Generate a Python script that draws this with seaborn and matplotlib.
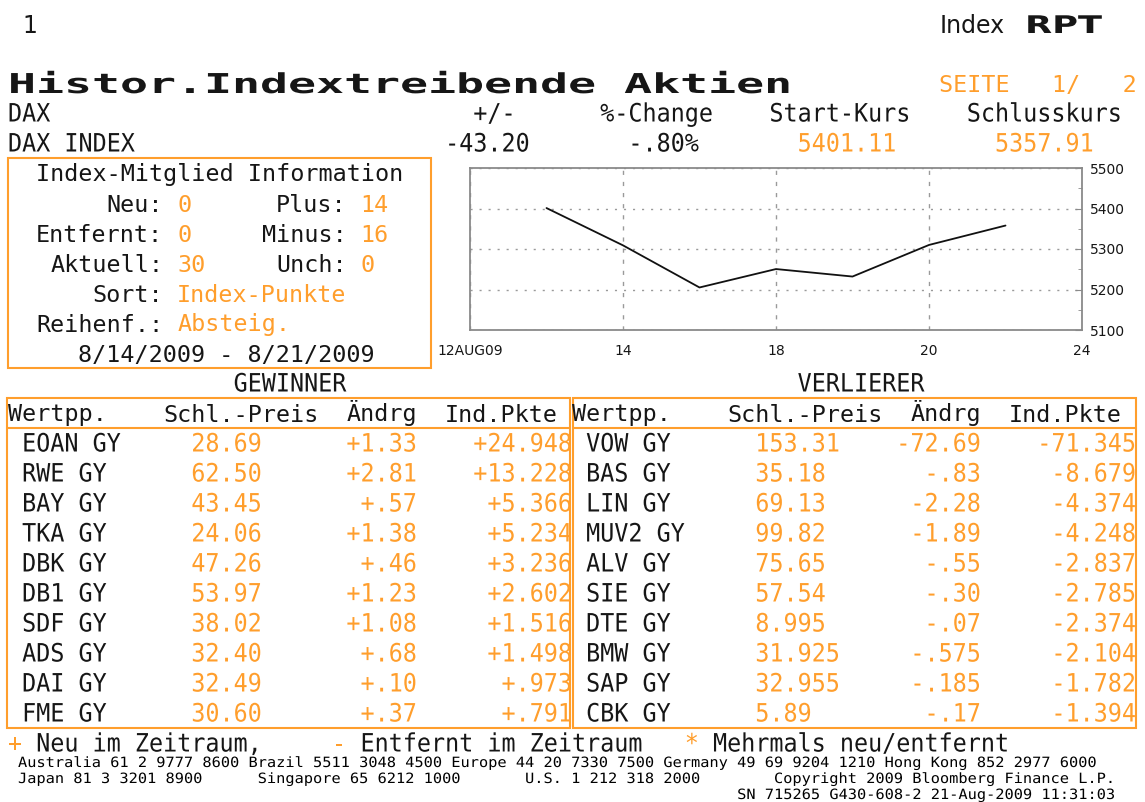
import numpy as np
import pandas as pd
import seaborn as sns
import matplotlib
matplotlib.use("Agg")
import matplotlib.pyplot as plt
from matplotlib.patches import Rectangle
from matplotlib.patheffects import AbstractPathEffect
from matplotlib.transforms import Affine2D

# ---------------- data ----------------
page_left = "1"
screen_code = "RPT"
title = "Histor.Indextreibende Aktien"
page_info = "SEITE   1/   2"

head_labels = ["DAX", "+/-", "%-Change", "Start-Kurs", "Schlusskurs"]
index_name = "DAX INDEX"
index_change = "-43.20"
index_pct = "-.80%"
index_start = "5401.11"
index_close = "5357.91"

info_title = "Index-Mitglied Information"
info_neu, info_entfernt, info_aktuell = "0", "0", "30"
info_plus, info_minus, info_unch = "14", "16", "0"
info_sort = "Index-Punkte"
info_order = "Absteig."
info_period = "8/14/2009 - 8/21/2009"

# chart data (DAX closes per trading session)
trading_days = ["12AUG09", "13", "14", "17", "18", "19", "20", "21", "24"]
close_days = ["13", "14", "17", "18", "19", "20", "21"]
close_values = [5401.11, 5309.0, 5205.0, 5250.5, 5232.0, 5310.0, 5357.91]
tick_days = ["12AUG09", "14", "18", "20", "24"]
minor_days = ["13", "17", "19", "21"]
y_ticks = [5100, 5200, 5300, 5400, 5500]

table_cols = ["Wertpp.", "Schl.-Preis", "Ändrg", "Ind.Pkte"]

gain_names = ["EOAN GY", "RWE GY", "BAY GY", "TKA GY", "DBK GY",
              "DB1 GY", "SDF GY", "ADS GY", "DAI GY", "FME GY"]
gain_price = ["28.69", "62.50", "43.45", "24.06", "47.26",
              "53.97", "38.02", "32.40", "32.49", "30.60"]
gain_chg = ["+1.33", "+2.81", "+.57", "+1.38", "+.46",
            "+1.23", "+1.08", "+.68", "+.10", "+.37"]
gain_pts = ["+24.948", "+13.228", "+5.366", "+5.234", "+3.236",
            "+2.602", "+1.516", "+1.498", "+.973", "+.791"]

loss_names = ["VOW GY", "BAS GY", "LIN GY", "MUV2 GY", "ALV GY",
              "SIE GY", "DTE GY", "BMW GY", "SAP GY", "CBK GY"]
loss_price = ["153.31", "35.18", "69.13", "99.82", "75.65",
              "57.54", "8.995", "31.925", "32.955", "5.89"]
loss_chg = ["-72.69", "-.83", "-2.28", "-1.89", "-.55",
            "-.30", "-.07", "-.575", "-.185", "-.17"]
loss_pts = ["-71.345", "-8.679", "-4.374", "-4.248", "-2.837",
            "-2.785", "-2.374", "-2.104", "-1.782", "-1.394"]

legend_items = [("+", "Neu im Zeitraum,"), ("-", "Entfernt im Zeitraum"),
                ("*", "Mehrmals neu/entfernt")]

footer_1 = ("Australia 61 2 9777 8600 Brazil 5511 3048 4500 Europe 44 20 7330 7500 "
            "Germany 49 69 9204 1210 Hong Kong 852 2977 6000")
footer_2 = ("Japan 81 3 3201 8900      Singapore 65 6212 1000       U.S. 1 212 318 2000"
            "        Copyright 2009 Bloomberg Finance L.P.")
footer_3 = "SN 715265 G430-608-2 21-Aug-2009 11:31:03"

# ---------------- style ----------------
sns.set_style("white")
plt.rcParams["font.family"] = ["DejaVu Sans Mono", "DejaVu Sans"]

W, H = 1145, 802
DPI = 100
ORANGE = "#FF9E2C"
BLACK = "#161616"
GRAY = "#8a8a8a"
MONO = "DejaVu Sans Mono"
SANS = "DejaVu Sans"

X0, PITCH = 8.0, 14.1                       # 80-column screen grid
ADV = 0.6021 * DPI / 72.0                   # mono advance (px) per pt
BODY = PITCH / ADV                          # regular body size
COND = 18.2                                 # taller, condensed body size
COND_SX = PITCH / (ADV * COND)


class HStretch(AbstractPathEffect):
    """Horizontally stretch text glyphs about the text origin."""
    def __init__(self, sx):
        super().__init__()
        self.sx = sx

    def draw_path(self, renderer, gc, tpath, affine, rgbFace=None):
        renderer.draw_path(gc, tpath, Affine2D().scale(self.sx, 1.0) + affine, rgbFace)


def col(c):
    return X0 + PITCH * c


def row(r):
    return 23 + 30 * r + 8.5   # baseline of screen row r


fig = plt.figure(figsize=(W / DPI, H / DPI), dpi=DPI)
fig.patch.set_facecolor("white")
bg = fig.add_axes([0, 0, 1, 1])
bg.set_xlim(0, W)
bg.set_ylim(H, 0)
bg.axis("off")


def put(s, x, y, color=BLACK, ha="left", size=BODY, family=MONO, weight="normal", sx=None):
    kw = {}
    if sx is not None:
        kw["path_effects"] = [HStretch(sx)]
    bg.text(x, y, s, color=color, ha=ha, va="baseline", fontsize=size,
            family=family, fontweight=weight, **kw)


def cput(s, c, r, color=BLACK, right=False):
    """Condensed screen text at column c (or ending at column c if right)."""
    start = c - len(s) if right else c
    put(s, col(start), row(r), color=color, size=COND, sx=COND_SX)


def box(x0, y0, x1, y1):
    bg.add_patch(Rectangle((x0, y0), x1 - x0, y1 - y0, fill=False,
                           edgecolor=ORANGE, lw=1.5))


# top line
put(page_left, 22, 33, size=17, family=SANS)
put("Index", 940, 33, size=17, family=SANS)
put(screen_code, 1025, 33, size=17.5, family=SANS, weight="bold", sx=1.45)

# title
put(title, X0, row(2) + 1.5, size=19.7, weight="bold", sx=1.70)
put(page_info, col(66), row(2) + 0.5, color=ORANGE, size=BODY)

# index header rows
cput(head_labels[0], 0, 3)
cput(head_labels[1], 33, 3)
cput(head_labels[2], 42, 3)
cput(head_labels[3], 54, 3)
cput(head_labels[4], 68, 3)
cput(index_name, 0, 4)
cput(index_change, 37, 4, right=True)
cput(index_pct, 44, 4)
cput(index_start, 56, 4, color=ORANGE)
cput(index_close, 70, 4, color=ORANGE)

# info box
box(col(0), 158, col(30), 368)
put(info_title, col(2), row(5))
put("Neu:", col(7), row(6));        put(info_neu, col(12), row(6), color=ORANGE)
put("Plus:", col(19), row(6));      put(info_plus, col(25), row(6), color=ORANGE)
put("Entfernt:", col(2), row(7));   put(info_entfernt, col(12), row(7), color=ORANGE)
put("Minus:", col(18), row(7));     put(info_minus, col(25), row(7), color=ORANGE)
put("Aktuell:", col(3), row(8));    put(info_aktuell, col(12), row(8), color=ORANGE)
put("Unch:", col(19), row(8));      put(info_unch, col(25), row(8), color=ORANGE)
put("Sort:", col(6), row(9));       put(info_sort, col(12), row(9), color=ORANGE)
put("Reihenf.:", col(2), row(10));  put(info_order, col(12), row(10), color=ORANGE)
put(info_period, col(5), row(11))

# tables
cput("GEWINNER", 16, 12)
cput("VERLIERER", 56, 12)
box(col(0) - 1, 398, 570, 728)
box(573, 398, col(80), 728)
bg.plot([col(0) - 1, 570], [428, 428], color=ORANGE, lw=1.5)
bg.plot([573, col(80)], [428, 428], color=ORANGE, lw=1.5)

for off in (0, 40):
    put(table_cols[0], col(off + 0), row(13))
    put(table_cols[1], col(off + 11), row(13))
    put(table_cols[2], col(off + 24), row(13))
    put(table_cols[3], col(off + 31), row(13))

for i in range(len(gain_names)):
    r = 14 + i
    cput(gain_names[i], 1, r)
    cput(gain_price[i], 13, r, color=ORANGE)
    cput(gain_chg[i], 29, r, color=ORANGE, right=True)
    cput(gain_pts[i], 40, r, color=ORANGE, right=True)
for i in range(len(loss_names)):
    r = 14 + i
    cput(loss_names[i], 41, r)
    cput(loss_price[i], 53, r, color=ORANGE)
    cput(loss_chg[i], 69, r, color=ORANGE, right=True)
    cput(loss_pts[i], 80, r, color=ORANGE, right=True)

# legend row
for (sym, txt), c in zip(legend_items, (0, 23, 48)):
    cput(sym, c, 24, color=ORANGE)
    cput(txt, c + 2, 24)

# footer (small condensed font on a 9.22 px grid)
FX0, FP = 18.0, 9.22
FS = 10.2
fsx = FP / (ADV * FS)
put(footer_1, FX0, 767, size=FS, sx=fsx, color="#000000")
put(footer_2, FX0, 783, size=FS, sx=fsx, color="#000000")
put(footer_3, FX0 + FP * (119 - len(footer_3)), 799, size=FS, sx=fsx, color="#000000")

# ---------------- chart ----------------
ax = fig.add_axes([470 / W, 1 - 330 / H, 612 / W, 162 / H])
df = pd.DataFrame({"pos": [trading_days.index(d) for d in close_days],
                   "close": close_values})
sns.lineplot(data=df, x="pos", y="close", ax=ax, color="#111111", lw=1.3)
ax.set_xlim(0, len(trading_days) - 1)
ax.set_ylim(y_ticks[0], y_ticks[-1])
ax.set_xticks([trading_days.index(d) for d in tick_days])
ax.set_xticklabels(tick_days)
ax.set_xticks([trading_days.index(d) for d in minor_days], minor=True)
ax.set_yticks(y_ticks)
ax.set_yticklabels([str(v) for v in y_ticks])
ax.set_yticks([v + 50 for v in y_ticks[:-1]], minor=True)
ax.yaxis.tick_right()
ax.set_xlabel("")
ax.set_ylabel("")
ax.tick_params(axis="both", which="both", direction="in", color=GRAY,
               labelsize=10, labelcolor=BLACK)
ax.tick_params(axis="x", which="major", length=5, pad=10)
ax.tick_params(axis="x", which="minor", length=5)
ax.tick_params(axis="y", which="major", length=5, pad=6, right=True, left=False)
ax.tick_params(axis="y", which="minor", length=3, right=True, left=False)
for lab in ax.get_xticklabels() + ax.get_yticklabels():
    lab.set_family(SANS)
ax.grid(axis="y", which="major", color="#9a9a9a", ls=(0, (1.5, 5)), lw=1.0)
ax.grid(axis="x", which="major", color="#9a9a9a", ls=(0, (3, 5)), lw=1.0)
for sp in ax.spines.values():
    sp.set_color(GRAY)
    sp.set_linewidth(1.3)
    sp.set_visible(True)
ax.set_facecolor("white")

fig.savefig("out.png", dpi=DPI, facecolor="white")
